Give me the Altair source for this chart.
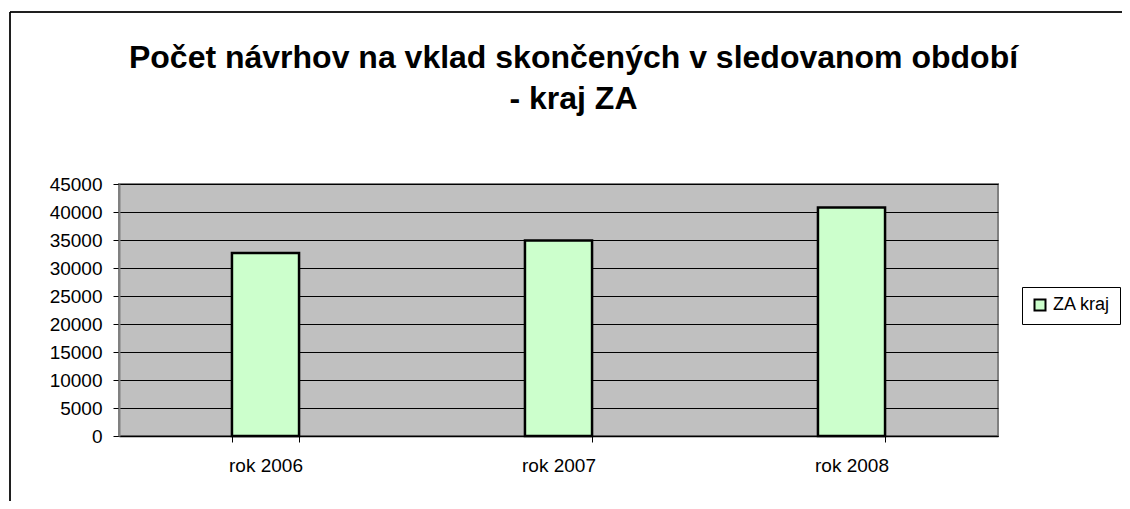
import altair as alt
import pandas as pd

categories = ["rok 2006", "rok 2007", "rok 2008"]
values = [32700, 34900, 40800]
series = ["ZA kraj", "ZA kraj", "ZA kraj"]
y_ticks = [0, 5000, 10000, 15000, 20000, 25000, 30000, 35000, 40000, 45000]

df = pd.DataFrame({"rok": categories, "pocet": values, "kraj": series})

FONT = "Liberation Sans"

bars = alt.Chart(df).mark_bar(stroke="black", strokeWidth=2.5).encode(
    x=alt.X(
        "rok:N",
        sort=categories,
        title=None,
        scale=alt.Scale(paddingInner=0.771, paddingOuter=0.3855),
        axis=alt.Axis(
            labelAngle=0,
            labelFont=FONT,
            labelFontSize=19,
            labelColor="black",
            labelPadding=14,
            tickBand="extent",
            tickSize=6,
            tickColor="black",
            domainColor="black",
            domainWidth=1.5,
            grid=False,
        ),
    ),
    y=alt.Y(
        "pocet:Q",
        title=None,
        scale=alt.Scale(domain=[0, 45000], nice=False),
        axis=alt.Axis(
            values=y_ticks,
            format="d",
            labelFont=FONT,
            labelFontSize=19,
            labelColor="black",
            labelPadding=11,
            tickSize=6,
            tickColor="black",
            domainColor="#808080",
            domainWidth=2,
            grid=True,
            gridColor="black",
            gridWidth=1,
        ),
    ),
    color=alt.Color(
        "kraj:N",
        scale=alt.Scale(range=["#CCFFCC"]),
        legend=alt.Legend(
            title=None,
            orient="none",
            legendX=903,
            legendY=103,
            symbolType="square",
            symbolSize=121,
            symbolStrokeColor="black",
            symbolStrokeWidth=2,
            labelFont=FONT,
            labelFontSize=18,
            labelColor="black",
            strokeColor="black",
            padding=9,
            fillColor="white",
        ),
    ),
)

frame_left = alt.Chart(df).mark_rule(color="black", strokeWidth=1).encode(
    x=alt.value(-109), y=alt.value(-172), y2=alt.value(330)
)
frame_top = alt.Chart(df).mark_rule(color="black", strokeWidth=1).encode(
    x=alt.value(-109), x2=alt.value(1020), y=alt.value(-172)
)

chart = alt.layer(bars, frame_left, frame_top).properties(
    width=879,
    height=252,
    autosize=alt.AutoSizeParams(type="none"),
    padding={"left": 111, "top": 176, "right": 124, "bottom": 65},
    title=alt.TitleParams(
        text=["Počet návrhov na vklad skončených v sledovanom období", "- kraj ZA"],
        font=FONT,
        fontSize=32,
        fontWeight="bold",
        color="black",
        lineHeight=41,
        anchor="middle",
        frame="group",
        dx=15,
        offset=-104,
    ),
).configure_view(
    fill="#C0C0C0", stroke="#808080", strokeWidth=2
)

chart.save("out.html", embed_options={"renderer": "svg", "actions": False})
